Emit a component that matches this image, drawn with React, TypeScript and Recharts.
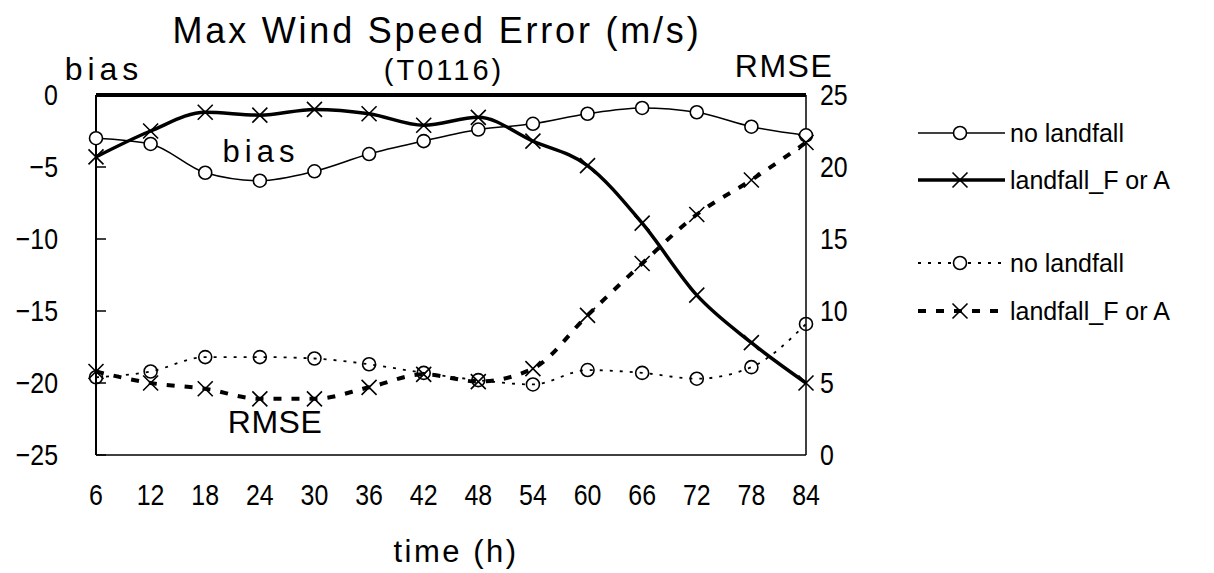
import React from 'react';
import { LineChart, Line, XAxis, YAxis, ReferenceLine, Legend, Customized } from 'recharts';

const hours = ['6', '12', '18', '24', '30', '36', '42', '48', '54', '60', '66', '72', '78', '84'];
const biasNoLandfall = [-3.0, -3.4, -5.4, -5.95, -5.3, -4.1, -3.2, -2.4, -2.0, -1.3, -0.9, -1.2, -2.2, -2.8];
const biasLandfall = [-4.3, -2.5, -1.2, -1.4, -1.0, -1.3, -2.1, -1.55, -3.2, -4.9, -8.9, -13.9, -17.2, -20.0];
const rmseNoLandfall = [5.4, 5.8, 6.8, 6.8, 6.7, 6.3, 5.7, 5.2, 4.9, 5.9, 5.7, 5.3, 6.1, 9.1];
const rmseLandfall = [5.8, 5.0, 4.6, 3.9, 3.9, 4.7, 5.6, 5.1, 6.0, 9.7, 13.3, 16.7, 19.1, 21.7];
const biasTicks = [-25, -20, -15, -10, -5, 0];
const rmseTicks = [0, 5, 10, 15, 20, 25];

const data = hours.map((h, i) => ({
  hour: h,
  biasNo: biasNoLandfall[i],
  biasLand: biasLandfall[i],
  rmseNo: rmseNoLandfall[i],
  rmseLand: rmseLandfall[i],
}));

const FONT = "'Liberation Sans', Arial, sans-serif";

type Marker = 'circle' | 'cross';
const series = [
  { key: 'biasNo', name: 'no landfall', axis: 'left', width: 1.5, dash: undefined as string | undefined, marker: 'circle' as Marker, fill: '#fff' },
  { key: 'biasLand', name: 'landfall_F or A', axis: 'left', width: 3.5, dash: undefined as string | undefined, marker: 'cross' as Marker, fill: 'none' },
  { key: 'rmseNo', name: 'no landfall', axis: 'right', width: 1.8, dash: '3 7', marker: 'circle' as Marker, fill: 'none' },
  { key: 'rmseLand', name: 'landfall_F or A', axis: 'right', width: 4, dash: '8 10', marker: 'cross' as Marker, fill: 'none' },
];

const drawMarker = (marker: Marker, fill: string, cx: number, cy: number, key?: any) => {
  if (marker === 'circle') {
    return <circle key={key} cx={cx} cy={cy} r={6.5} fill={fill} stroke="#000" strokeWidth={1.6} />;
  }
  return (
    <path
      key={key}
      d={`M${cx - 7.5},${cy - 7.5}L${cx + 7.5},${cy + 7.5}M${cx - 7.5},${cy + 7.5}L${cx + 7.5},${cy - 7.5}`}
      stroke="#000"
      strokeWidth={1.6}
      fill="none"
    />
  );
};

const makeDot = (marker: Marker, fill: string) => (props: any) => {
  const { cx, cy, key, index } = props;
  if (cx == null || cy == null) return <g key={key ?? index} />;
  return drawMarker(marker, fill, cx, cy, key ?? index);
};

const fmt = (v: number) => (v < 0 ? '\u2212' + Math.abs(v) : String(v));

const NarrowText = ({ x, y, anchor, children, size = 29, sx = 0.86 }: any) => (
  <text
    transform={`translate(${x},${y}) scale(${sx},1)`}
    x={0}
    y={0}
    textAnchor={anchor}
    dominantBaseline="central"
    fontSize={size}
    fontFamily={FONT}
    fill="#000"
  >
    {children}
  </text>
);

const LeftTick = (props: any) => {
  const { x, y, payload } = props;
  return (
    <g>
      <line x1={x} x2={x + 10} y1={y} y2={y} stroke="#000" strokeWidth={1.5} />
      <NarrowText x={x - 38} y={y} anchor="end">{fmt(payload.value)}</NarrowText>
    </g>
  );
};

const RightTick = (props: any) => {
  const { x, y, payload } = props;
  return <NarrowText x={x + 14} y={y} anchor="start">{payload.value}</NarrowText>;
};

const BottomTick = (props: any) => {
  const { x, y, payload } = props;
  return <NarrowText x={x} y={y + 40} anchor="middle">{payload.value}</NarrowText>;
};

const legendRowY = [23, 70, 153, 201];

const LegendContent = () => (
  <svg width={344} height={230} style={{ display: 'block' }}>
    {series.map((s, i) => {
      const y = legendRowY[i];
      return (
        <g key={s.key}>
          <line x1={48} x2={135} y1={y} y2={y} stroke="#000" strokeWidth={s.width} strokeDasharray={s.dash} />
          {drawMarker(s.marker, s.marker === 'circle' ? '#fff' : 'none', 90, y)}
          <text x={140} y={y} dominantBaseline="central" fontSize={25} fontFamily={FONT} fill="#000">
            {s.name}
          </text>
        </g>
      );
    })}
  </svg>
);

const Texts = () => (
  <g fontFamily={FONT} fill="#000">
    <text x={437} y={30} textAnchor="middle" dominantBaseline="central" fontSize={36} letterSpacing={2.8}>
      Max Wind Speed Error (m/s)
    </text>
    <text x={444} y={70} textAnchor="middle" dominantBaseline="central" fontSize={29} letterSpacing={3}>
      (T0116)
    </text>
    <text x={104} y={69} textAnchor="middle" dominantBaseline="central" fontSize={32} letterSpacing={5}>
      bias
    </text>
    <text x={784} y={66} textAnchor="middle" dominantBaseline="central" fontSize={32} letterSpacing={1.5}>
      RMSE
    </text>
    <text x={261} y={151} textAnchor="middle" dominantBaseline="central" fontSize={31} letterSpacing={5}>
      bias
    </text>
    <text x={275} y={422} textAnchor="middle" dominantBaseline="central" fontSize={32} letterSpacing={0.5}>
      RMSE
    </text>
    <text x={456} y={551} textAnchor="middle" dominantBaseline="central" fontSize={31} letterSpacing={2.5}>
      time (h)
    </text>
  </g>
);

export default function App() {
  return (
    <div style={{ position: 'absolute', left: 0, top: 0, width: 1214, height: 573, background: '#fff' }}>
      <LineChart
        width={1214}
        height={573}
        data={data}
        margin={{ top: 95, right: 348, bottom: 58, left: 0 }}
        style={{ fontFamily: FONT }}
      >
        <XAxis
          dataKey="hour"
          type="category"
          padding={{ left: 0, right: 0 }}
          height={60}
          tickLine={false}
          tickSize={0}
          tickMargin={0}
          interval={0}
          axisLine={{ stroke: '#000', strokeWidth: 1.5 }}
          tick={<BottomTick />}
        />
        <YAxis
          yAxisId="left"
          orientation="left"
          width={96}
          domain={[-25, 0]}
          ticks={biasTicks}
          tickLine={false}
          tickSize={0}
          tickMargin={0}
          interval={0}
          axisLine={{ stroke: '#000', strokeWidth: 2 }}
          tick={<LeftTick />}
          allowDataOverflow
        />
        <YAxis
          yAxisId="right"
          orientation="right"
          width={60}
          domain={[0, 25]}
          ticks={rmseTicks}
          tickLine={false}
          tickSize={0}
          tickMargin={0}
          interval={0}
          axisLine={{ stroke: '#000', strokeWidth: 1.5 }}
          tick={<RightTick />}
          allowDataOverflow
        />
        <ReferenceLine yAxisId="left" y={0} stroke="#000" strokeWidth={4} />
        {series.map((s) => (
          <Line
            key={s.key}
            yAxisId={s.axis}
            dataKey={s.key}
            name={s.name}
            type="monotone"
            stroke="#000"
            strokeWidth={s.width}
            strokeDasharray={s.dash}
            dot={makeDot(s.marker, s.fill)}
            activeDot={false}
            isAnimationActive={false}
          />
        ))}
        <Legend
          layout="vertical"
          align="center"
          verticalAlign="middle"
          content={<LegendContent />}
          wrapperStyle={{ position: 'absolute', left: 870, top: 110, width: 344, height: 230 }}
        />
        <Customized component={<Texts />} />
      </LineChart>
    </div>
  );
}
